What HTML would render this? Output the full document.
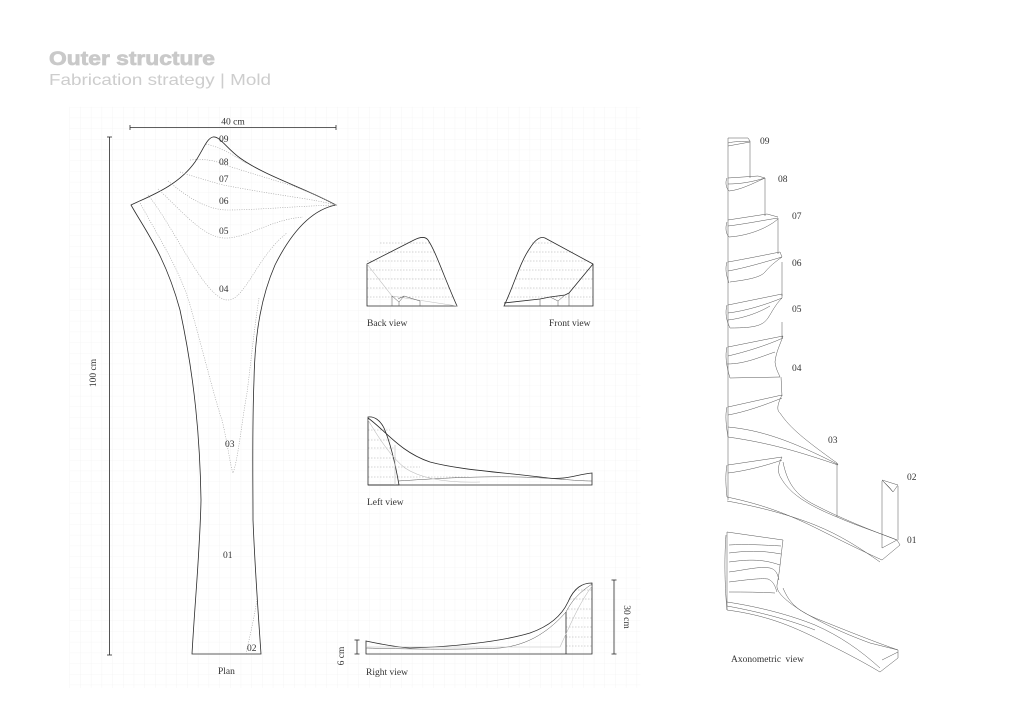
<!DOCTYPE html>
<html><head><meta charset="utf-8"><style>
html,body{margin:0;padding:0;background:#fff;}
svg{display:block;}
.o{fill:none;stroke:#2a2a2a;stroke-width:0.8;}
.t{fill:none;stroke:#555;stroke-width:0.5;}
.d{fill:none;stroke:#9a9a9a;stroke-width:0.6;stroke-dasharray:1 1.4;}
.g{fill:none;stroke:#bdbdbd;stroke-width:0.6;}
.h{fill:none;stroke:#a8a8a8;stroke-width:0.5;stroke-dasharray:1.5 1.5;}
.lb{font-family:"Liberation Serif",serif;font-size:9.5px;fill:#333;}
</style></head><body>
<svg width="1024" height="724" viewBox="0 0 1024 724" xmlns="http://www.w3.org/2000/svg">
<defs>
<pattern id="grid" x="69.5" y="106.9" width="10.7" height="10.7" patternUnits="userSpaceOnUse">
<path d="M0,0 H10.7 M0,0 V10.7" fill="none" stroke="#efefef" stroke-width="0.6"/>
</pattern>
</defs>
<rect x="0" y="0" width="1024" height="724" fill="#fff"/>
<rect x="69.5" y="106.9" width="571" height="581" fill="url(#grid)"/>

<!-- Title -->
<text x="49" y="65" font-family="Liberation Sans, sans-serif" font-weight="bold" font-size="19" fill="#c9c9c9" stroke="#c9c9c9" stroke-width="0.7" textLength="166" lengthAdjust="spacingAndGlyphs">Outer structure</text>
<text x="49" y="85" font-family="Liberation Sans, sans-serif" font-size="16" fill="#cdcdcd" textLength="222" lengthAdjust="spacingAndGlyphs">Fabrication strategy | Mold</text>

<!-- Plan dimensions -->
<line x1="130" y1="127.5" x2="336" y2="127.5" class="o" stroke-width="0.7"/>
<line x1="130" y1="125" x2="130" y2="130" class="o" stroke-width="0.7"/>
<line x1="336" y1="125" x2="336" y2="130" class="o" stroke-width="0.7"/>
<text x="233" y="124.5" class="lb" font-size="9" text-anchor="middle">40 cm</text>
<line x1="109.5" y1="137" x2="109.5" y2="655" class="o" stroke-width="0.7"/>
<line x1="107" y1="137" x2="112" y2="137" class="o" stroke-width="0.7"/>
<line x1="107" y1="655" x2="112" y2="655" class="o" stroke-width="0.7"/>
<text x="0" y="0" class="lb" font-size="9" text-anchor="middle" transform="translate(96,373) rotate(-90)">100 cm</text>

<!-- Plan outline -->
<path class="o" d="M131,205 C150,196 178,186 195,162 C203,150 207,138 213,137 C220,136 226,148 240,158 C265,176 305,188 336,205 C310,210 290,235 275,265 C262,295 255,330 254,380 C252,430 253,480 253,520 C255,570 258,610 261,654 L192,654 C195,600 200,550 201,500 C200,440 195,380 180,310 C165,255 145,230 131,205 Z"/>
<!-- Plan contours -->
<path class="d" d="M206,144 Q224,148 247,164"/>
<path class="d" d="M190,160 Q210,158 222,164 Q250,173 290,185 Q315,194 336,205"/>
<path class="d" d="M180,172 Q198,178 223,185 Q260,192 300,198 Q320,201 336,205"/>
<path class="d" d="M168,181 C185,195 205,210 228,210 C255,210 300,206 336,205"/>
<path class="d" d="M158,189 C183,212 205,240 228,238 C252,236 270,220 303,217"/>
<path class="d" d="M148,195 C175,228 205,300 228,300 C245,300 258,255 287,233"/>
<path class="d" d="M139,201 C160,240 180,270 190,305 C200,340 215,400 222,420 C228,445 230,465 233,473 C238,460 242,420 247,393 C250,370 254,330 259,298"/>
<path class="d" d="M246,654 C250,635 255,615 257,598"/>
<text x="219" y="142" class="lb">09</text>
<text x="219" y="165" class="lb">08</text>
<text x="219" y="182" class="lb">07</text>
<text x="219" y="204" class="lb">06</text>
<text x="219" y="234" class="lb">05</text>
<text x="219" y="292" class="lb">04</text>
<text x="225" y="447" class="lb">03</text>
<text x="223" y="558" class="lb">01</text>
<text x="247" y="651" class="lb">02</text>
<text x="218" y="674" class="lb">Plan</text>

<!-- Back view -->
<g>
<line class="h" x1="380" y1="243" x2="430" y2="243"/>
<line class="h" x1="370" y1="252" x2="434" y2="252"/>
<line class="h" x1="367" y1="261" x2="437" y2="261"/>
<line class="h" x1="367" y1="270" x2="441" y2="270"/>
<line class="h" x1="367" y1="279" x2="445" y2="279"/>
<line class="h" x1="367" y1="288" x2="449" y2="288"/>
<line class="h" x1="367" y1="297" x2="453" y2="297"/>
<path class="o" d="M367,306 L367,264 L414,240 C420,237 425,236 428,240 C436,252 442,272 457,306 Z"/>
<path class="g" d="M367,264 L392,296 L457,306"/>
<path class="t" d="M392,296 L392,306 M392,296 L399,302 L404,296 L420,301 L420,306 M399,302 L399,306 M404,296 L398,299"/>
<text x="367" y="326" class="lb" font-size="9">Back view</text>
</g>
<!-- Front view -->
<g>
<line class="h" x1="532" y1="243" x2="553" y2="243"/>
<line class="h" x1="527" y1="252" x2="573" y2="252"/>
<line class="h" x1="524" y1="261" x2="590" y2="261"/>
<line class="h" x1="520" y1="270" x2="593" y2="270"/>
<line class="h" x1="516" y1="279" x2="593" y2="279"/>
<line class="h" x1="512" y1="288" x2="593" y2="288"/>
<line class="h" x1="508" y1="297" x2="593" y2="297"/>
<path class="o" d="M504,306 C514,285 520,262 530,248 C535,240 540,236 545,238 L593,264 L593,306 Z"/>
<path class="o" d="M504,303 L540,299 L550,297 L565,295 L569,293 L593,264"/>
<path class="t" d="M540,299 L540,306 M569,293 L569,306 M550,297 L558,301 L565,295 M558,301 L558,306"/>
<text x="549" y="326" class="lb" font-size="9">Front view</text>
</g>

<!-- Left view -->
<g>
<line class="h" x1="368" y1="430" x2="390" y2="430"/>
<line class="h" x1="368" y1="440" x2="392" y2="440"/>
<line class="h" x1="368" y1="448" x2="394" y2="448"/>
<line class="h" x1="368" y1="458" x2="396" y2="458"/>
<line class="h" x1="368" y1="467" x2="420" y2="467"/>
<line class="h" x1="368" y1="477" x2="470" y2="477"/>
<path class="o" d="M368,485 L368,417 C374,416 380,420 384,428 C390,442 395,462 399,485 Z"/>
<path class="o" d="M368,485 L592,485 L592,473 C575,475 565,480 548,478 C500,472 460,470 430,462 C400,452 385,430 368,418"/>
<path class="t" d="M398,481 C430,479 470,476 520,477 C555,478 575,481 592,481"/>
<path class="g" d="M368,420 C380,440 392,458 405,468 C420,478 445,483 480,482"/>
<path class="g" d="M395,445 L395,485"/>
<text x="367" y="505" class="lb" font-size="9">Left view</text>
</g>

<!-- Right view -->
<g>
<line class="h" x1="575" y1="590" x2="592" y2="590"/>
<line class="h" x1="570" y1="599" x2="592" y2="599"/>
<line class="h" x1="568" y1="609" x2="592" y2="609"/>
<line class="h" x1="566" y1="618" x2="592" y2="618"/>
<line class="h" x1="566" y1="627" x2="592" y2="627"/>
<line class="h" x1="566" y1="637" x2="592" y2="637"/>
<line class="h" x1="566" y1="646" x2="592" y2="646"/>
<path class="o" d="M366,654 L366,641 C380,644 395,647 410,648 C450,647 500,642 530,633 C550,626 562,615 568,602 C574,588 582,583 592,583 L592,654 Z"/>
<path class="o" d="M566,654 L566,612"/>
<path class="t" d="M366,648 C400,649 460,650 500,648 C530,645 550,630 566,612 C572,600 580,592 592,584"/>
<path class="g" d="M366,647 L560,647 C568,630 578,605 592,586"/>
<line x1="614" y1="580" x2="614" y2="654" class="o" stroke-width="0.7"/>
<line x1="611.5" y1="580" x2="616.5" y2="580" class="o" stroke-width="0.7"/>
<line x1="611.5" y1="654" x2="616.5" y2="654" class="o" stroke-width="0.7"/>
<text x="0" y="0" class="lb" font-size="9" text-anchor="middle" transform="translate(624,617) rotate(90)">30 cm</text>
<line x1="357" y1="640" x2="357" y2="654" class="o" stroke-width="0.7"/>
<line x1="354.5" y1="640" x2="359.5" y2="640" class="o" stroke-width="0.7"/>
<line x1="354.5" y1="654" x2="359.5" y2="654" class="o" stroke-width="0.7"/>
<text x="0" y="0" class="lb" font-size="9" text-anchor="middle" transform="translate(344,656) rotate(-90)">6 cm</text>
<text x="366" y="675" class="lb" font-size="9">Right view</text>
</g>

<!-- Axonometric -->
<g class="t">
<line x1="728" y1="138" x2="728" y2="500"/>
<line x1="750" y1="141" x2="750" y2="178"/>
<line x1="765" y1="178" x2="765" y2="216"/>
<line x1="778" y1="218" x2="778" y2="254"/>
<line x1="782" y1="262" x2="782" y2="296"/>
<line x1="782" y1="322" x2="782" y2="338"/>
<line x1="781" y1="377" x2="782" y2="396"/>
<line x1="837" y1="463" x2="837" y2="517"/>
<line x1="882" y1="481" x2="882" y2="548"/>
<line x1="898" y1="486" x2="898" y2="540"/>
<path d="M728,138 L748,138 L750,141 C742,142 735,141 728,143 M728,146 L750,142"/>
<path d="M728,178 L758,176 L765,178 C752,182 740,184 728,184 M727,178 C725,182 726,188 729,191 C740,190 752,184 765,178"/>
<path d="M728,220 L767,214 L778,217 M728,226 C745,224 765,220 778,218 M727,222 C725,228 726,234 729,237 C745,236 765,230 778,219"/>
<path d="M728,262 C745,259 765,255 780,252 L782,257 C775,262 770,266 765,272 C760,278 745,280 730,282 M728,271 C745,268 765,262 782,257 M727,262 C725,268 726,275 729,283"/>
<path d="M728,305 L782,294 L782,298 C775,305 772,312 768,318 C763,325 757,328 730,328 M728,313 C745,311 765,305 782,298 M728,320 C745,318 760,312 770,306 M727,305 C725,312 726,320 730,328"/>
<path d="M728,347 L783,336 C780,345 776,352 775,362 C776,370 779,374 780,377 L730,378 M728,356 C745,352 765,346 783,338 M727,364 C745,364 760,357 775,352 M727,347 C725,355 726,365 730,378"/>
<path d="M728,407 L782,395 C778,403 776,410 780,413 C790,428 805,440 837,463 L838,465 C800,452 770,443 728,437 M728,415 C745,412 765,405 782,398 M728,427 C760,430 790,440 837,464 M727,407 C725,415 726,425 728,437"/>
<path d="M728,465 L782,457 C778,465 777,472 781,478 C788,490 800,502 837,517 C860,527 880,533 897,540 L900,545 L882,560 C860,550 840,540 820,530 C790,515 765,505 727,497 M728,473 C745,471 765,466 782,460 M727,501 C760,507 790,515 815,525 C840,535 860,548 880,562 M783,462 C787,482 795,495 815,505 C840,518 870,530 897,540 M882,548 L897,540 M727,465 C725,475 726,488 727,497"/>
<path d="M882,480 L898,485 L893,492 Z M882,480 L890,488 L893,492"/>
<path d="M727,532 L783,540 C781,555 780,570 777,585 C776,592 785,600 800,610 C820,622 840,632 870,643 L898,650 L898,658 L880,672 C860,660 840,650 820,640 C790,625 765,615 727,610 Z"/>
<path d="M729,545 C745,544 765,545 781,546 M729,553 C745,551 760,550 781,554 M729,562 C745,560 760,558 780,565 M729,572 C745,570 760,566 770,568 C778,570 778,578 779,580 M729,582 C745,580 760,578 768,579 C775,582 776,590 777,592 M729,592 C745,592 760,592 775,593"/>
<path d="M727,602 C760,607 790,615 815,625 C840,636 860,650 880,668 M727,606 C760,612 790,620 815,630 M783,588 C790,605 800,612 820,620 C850,632 875,642 898,650 M882,660 L898,652"/>
<path d="M726,535 C724,560 725,590 727,610"/>
</g>
<text x="760" y="144" class="lb">09</text>
<text x="778" y="182" class="lb">08</text>
<text x="792" y="219" class="lb">07</text>
<text x="792" y="266" class="lb">06</text>
<text x="792" y="312" class="lb">05</text>
<text x="792" y="371" class="lb">04</text>
<text x="828" y="443" class="lb">03</text>
<text x="907" y="480" class="lb">02</text>
<text x="907" y="543" class="lb">01</text>
<text x="731" y="662" class="lb" font-size="9" word-spacing="2">Axonometric view</text>
</svg>
</body></html>
